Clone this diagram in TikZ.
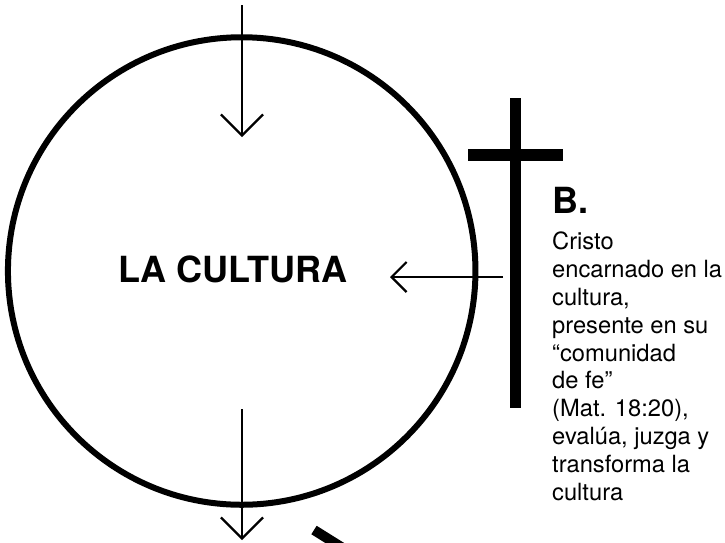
\documentclass[tikz,border=0pt]{standalone}
\usepackage{fontspec}
\setmainfont{TeX Gyre Heros}
\usetikzlibrary{arrows.meta,shapes.geometric}
\begin{document}
\begin{tikzpicture}[x=1pt,y=-1pt,
  bigarrow/.style={line width=2.2pt,-{Straight Barb[length=21pt,width=42pt,line width=2.2pt]}},
  smallarrow/.style={line width=2.2pt,-{Straight Barb[length=15pt,width=30pt,line width=2.2pt]}},
  bar/.style={fill=black,draw=none},
  title/.style={font=\fontsize{36}{36}\selectfont\bfseries,inner sep=0pt},
  body/.style={font=\fontsize{23.7}{27.8}\selectfont,inner sep=0pt,align=left}]
\useasboundingbox (0,0) rectangle (725,542);
\clip (0,0) rectangle (725,542);
% culture circle
\node[draw,ellipse,line width=6pt,minimum width=467.5pt,minimum height=467.5pt,inner sep=0pt] (cult) at (241.7,271) {};
\node[title,anchor=base west] (lbl) at (118,282) {LA CULTURA};
% cross
\path[bar] (510,98) rectangle (521,408);
\path[bar] (468,149) rectangle (563,161);
\coordinate (crossL) at (503,277);
% arrows
\coordinate (topS) at (242,5);
\coordinate (topE) at (242,137);
\coordinate (botS) at (242,409);
\coordinate (botE) at (242,540);
\coordinate (leftE) at (390,277);
\draw[bigarrow] (topS) -- (topE);
\draw[bigarrow] (botS) -- (botE);
\draw[smallarrow] (crossL) -- (leftE);
% partial thick stroke at bottom
\coordinate (dA) at (314,530);
\coordinate (dB) at (354,555);
\draw[line width=10pt] (dA) -- (dB);
% text
\node[title,anchor=base west] (B) at (552,213) {B.};
\node[body,anchor=base west] (desc) at (552,500) {Cristo\\encarnado en la\\cultura,\\presente en su\\“comunidad\\de fe”\\(Mat. 18:20),\\evalúa, juzga y\\transforma la\\cultura};
\end{tikzpicture}
\end{document}
